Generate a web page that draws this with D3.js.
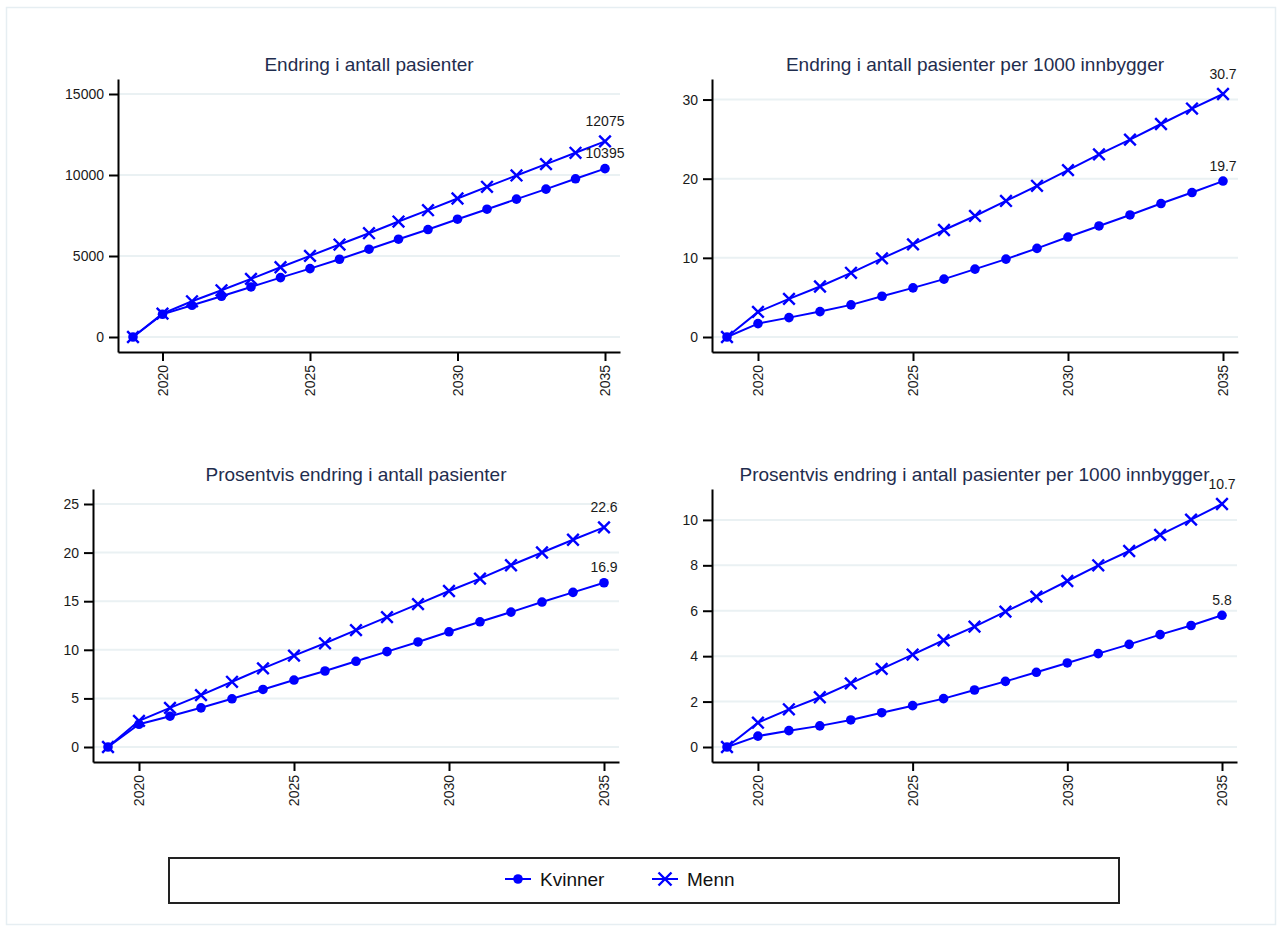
<!DOCTYPE html>
<html>
<head>
<meta charset="utf-8">
<script src="https://cdn.jsdelivr.net/npm/d3@7"></script>
<style>
  html, body { margin: 0; padding: 0; background: #ffffff; }
  svg { display: block; font-family: "Liberation Sans", Arial, sans-serif; }
</style>
</head>
<body>
<svg id="chart" width="1280" height="929"></svg>
<script>
// Years on the x axis
const years = [2019, 2020, 2021, 2022, 2023, 2024, 2025, 2026, 2027, 2028, 2029, 2030, 2031, 2032, 2033, 2034, 2035];

// Change in number of patients
const kvinnerAntall = [0, 1401, 1957, 2513, 3090, 3667, 4223, 4800, 5418, 6036, 6634, 7272, 7890, 8508, 9127, 9765, 10395];
const mennAntall    = [0, 1442, 2204, 2884, 3585, 4306, 5006, 5707, 6407, 7128, 7828, 8549, 9271, 9971, 10672, 11372, 12075];

// Change in patients per 1000 inhabitants
const kvinnerPer1000 = [0, 1.69, 2.45, 3.21, 4.06, 5.15, 6.21, 7.31, 8.58, 9.84, 11.2, 12.63, 14.03, 15.42, 16.86, 18.25, 19.7];
const mennPer1000    = [0, 3.17, 4.82, 6.38, 8.11, 9.93, 11.7, 13.52, 15.29, 17.19, 19.1, 21.08, 23.07, 24.93, 26.91, 28.86, 30.7];

// Percentage change in number of patients
const kvinnerProsent = [0, 2.34, 3.17, 4.03, 4.96, 5.92, 6.89, 7.82, 8.82, 9.81, 10.81, 11.85, 12.88, 13.88, 14.91, 15.91, 16.9];
const mennProsent    = [0, 2.69, 4.03, 5.34, 6.71, 8.09, 9.4, 10.67, 12.02, 13.36, 14.7, 16.05, 17.32, 18.7, 20.01, 21.32, 22.6];

// Percentage change in patients per 1000 inhabitants
const kvinnerProsentPer1000 = [0, 0.48, 0.72, 0.93, 1.19, 1.51, 1.82, 2.13, 2.51, 2.89, 3.29, 3.7, 4.11, 4.52, 4.95, 5.35, 5.8];
const mennProsentPer1000    = [0, 1.07, 1.66, 2.19, 2.8, 3.44, 4.07, 4.7, 5.3, 5.96, 6.62, 7.31, 8.0, 8.63, 9.34, 10.01, 10.7];

// Tick labels
const xTicks = [2020, 2025, 2030, 2035];
const yTicksAntall = [0, 5000, 10000, 15000];
const yTicksPer1000 = [0, 10, 20, 30];
const yTicksProsent = [0, 5, 10, 15, 20, 25];
const yTicksProsentPer1000 = [0, 2, 4, 6, 8, 10];

const panelTitles = [
  "Endring i antall pasienter",
  "Endring i antall pasienter per 1000 innbygger",
  "Prosentvis endring i antall pasienter",
  "Prosentvis endring i antall pasienter per 1000 innbygger"
];
const seriesNames = ["Kvinner", "Menn"];

const BLUE = "#0000ff";
const svg = d3.select("#chart");

// Light frame around the whole graphic
svg.append("rect")
  .attr("x", 6.5).attr("y", 7.5).attr("width", 1269).attr("height", 917)
  .attr("fill", "none").attr("stroke", "#e6eef2").attr("stroke-width", 1.5);

const panels = [
  { title: panelTitles[0], k: kvinnerAntall, m: mennAntall, ticks: yTicksAntall, fmt: d3.format("d"),
    box: { left: 118, right: 620, top: 79, bottom: 352 } },
  { title: panelTitles[1], k: kvinnerPer1000, m: mennPer1000, ticks: yTicksPer1000, fmt: d3.format(".1f"),
    box: { left: 712, right: 1238, top: 79, bottom: 352 } },
  { title: panelTitles[2], k: kvinnerProsent, m: mennProsent, ticks: yTicksProsent, fmt: d3.format(".1f"),
    box: { left: 93, right: 619, top: 489, bottom: 762 } },
  { title: panelTitles[3], k: kvinnerProsentPer1000, m: mennProsentPer1000, ticks: yTicksProsentPer1000, fmt: d3.format(".1f"),
    box: { left: 712, right: 1237, top: 489, bottom: 762 } }
];

const INSET = 15;

function crossPath(s) {
  return `M${-s},${-s}L${s},${s}M${-s},${s}L${s},${-s}`;
}

panels.forEach(p => {
  const b = p.box;
  const g = svg.append("g");

  // x scale: first/last year sit INSET px inside the plot region
  const x = d3.scaleLinear().domain([years[0], years[years.length - 1]])
    .range([b.left + INSET, b.right - INSET]);
  x.domain([x.invert(b.left), x.invert(b.right)]).range([b.left, b.right]);

  // y scale: zero and the top of data/ticks sit INSET px inside the plot region
  const yMax = Math.max(d3.max(p.ticks), d3.max(p.k), d3.max(p.m));
  const y = d3.scaleLinear().domain([0, yMax])
    .range([b.bottom - INSET, b.top + INSET]);
  y.domain([y.invert(b.bottom), y.invert(b.top)]).range([b.bottom, b.top]);

  // Grid lines
  g.append("g").selectAll("line").data(p.ticks).join("line")
    .attr("x1", b.left).attr("x2", b.right)
    .attr("y1", d => y(d)).attr("y2", d => y(d))
    .attr("stroke", "#eaf1f3").attr("stroke-width", 2);

  // Title
  g.append("text")
    .attr("x", (b.left + b.right) / 2).attr("y", b.top - 8)
    .attr("text-anchor", "middle")
    .attr("font-size", 19).attr("fill", "#1f2d4e")
    .text(p.title);

  // Y axis
  const yAxis = g.append("g").attr("transform", `translate(${b.left},0)`)
    .call(d3.axisLeft(y).tickValues(p.ticks).tickSize(9).tickSizeOuter(0).tickPadding(5)
      .tickFormat(d3.format("d")));
  yAxis.select(".domain").attr("stroke", "#000").attr("stroke-width", 2);
  yAxis.selectAll(".tick line").attr("stroke", "#000").attr("stroke-width", 2);
  yAxis.selectAll(".tick text").attr("font-size", 14).attr("fill", "#1a1a1a")
    .attr("font-family", "Liberation Sans, Arial, sans-serif");

  // X axis with vertical labels
  const xAxis = g.append("g").attr("transform", `translate(0,${b.bottom})`)
    .call(d3.axisBottom(x).tickValues(xTicks).tickSize(9).tickSizeOuter(0).tickFormat(d3.format("d")));
  xAxis.select(".domain").attr("stroke", "#000").attr("stroke-width", 2);
  xAxis.selectAll(".tick line").attr("stroke", "#000").attr("stroke-width", 2);
  xAxis.selectAll(".tick text")
    .attr("font-size", 14).attr("fill", "#1a1a1a")
    .attr("font-family", "Liberation Sans, Arial, sans-serif")
    .attr("transform", "rotate(-90)")
    .attr("text-anchor", "end")
    .attr("x", -13).attr("y", 0).attr("dy", "0.35em");

  const line = d3.line().x((d, i) => x(years[i])).y(d => y(d));

  // Kvinner: circles
  g.append("path").datum(p.k).attr("d", line)
    .attr("fill", "none").attr("stroke", BLUE).attr("stroke-width", 2);
  g.append("g").selectAll("circle").data(p.k).join("circle")
    .attr("cx", (d, i) => x(years[i])).attr("cy", d => y(d)).attr("r", 4.8)
    .attr("fill", BLUE);

  // Menn: crosses
  g.append("path").datum(p.m).attr("d", line)
    .attr("fill", "none").attr("stroke", BLUE).attr("stroke-width", 2);
  g.append("g").selectAll("path").data(p.m).join("path")
    .attr("transform", (d, i) => `translate(${x(years[i])},${y(d)})`)
    .attr("d", crossPath(5.8))
    .attr("fill", "none").attr("stroke", BLUE).attr("stroke-width", 2.4);

  // Value labels on the final year
  const last = years.length - 1;
  g.append("text")
    .attr("x", x(years[last])).attr("y", y(p.m[last]) - 15)
    .attr("text-anchor", "middle").attr("font-size", 14).attr("fill", "#1a1a1a")
    .text(p.fmt(p.m[last]));
  g.append("text")
    .attr("x", x(years[last])).attr("y", y(p.k[last]) - 10.5)
    .attr("text-anchor", "middle").attr("font-size", 14).attr("fill", "#1a1a1a")
    .text(p.fmt(p.k[last]));
});

// Legend
const legend = svg.append("g");
legend.append("rect")
  .attr("x", 169).attr("y", 858).attr("width", 950).attr("height", 45)
  .attr("fill", "#fff").attr("stroke", "#222").attr("stroke-width", 2);

const legendItems = [
  { name: seriesNames[0], cx: 518, type: "circle" },
  { name: seriesNames[1], cx: 665, type: "cross" }
];
const ly = 879;
legendItems.forEach(it => {
  legend.append("line")
    .attr("x1", it.cx - 13).attr("x2", it.cx + 13).attr("y1", ly).attr("y2", ly)
    .attr("stroke", BLUE).attr("stroke-width", 2);
  if (it.type === "circle") {
    legend.append("circle").attr("cx", it.cx).attr("cy", ly).attr("r", 4.8).attr("fill", BLUE);
  } else {
    legend.append("path").attr("transform", `translate(${it.cx},${ly})`)
      .attr("d", crossPath(6.5)).attr("fill", "none").attr("stroke", BLUE).attr("stroke-width", 2.4);
  }
  legend.append("text")
    .attr("x", it.cx + 22).attr("y", ly + 7)
    .attr("font-size", 19).attr("fill", "#111")
    .text(it.name);
});
</script>
</body>
</html>
